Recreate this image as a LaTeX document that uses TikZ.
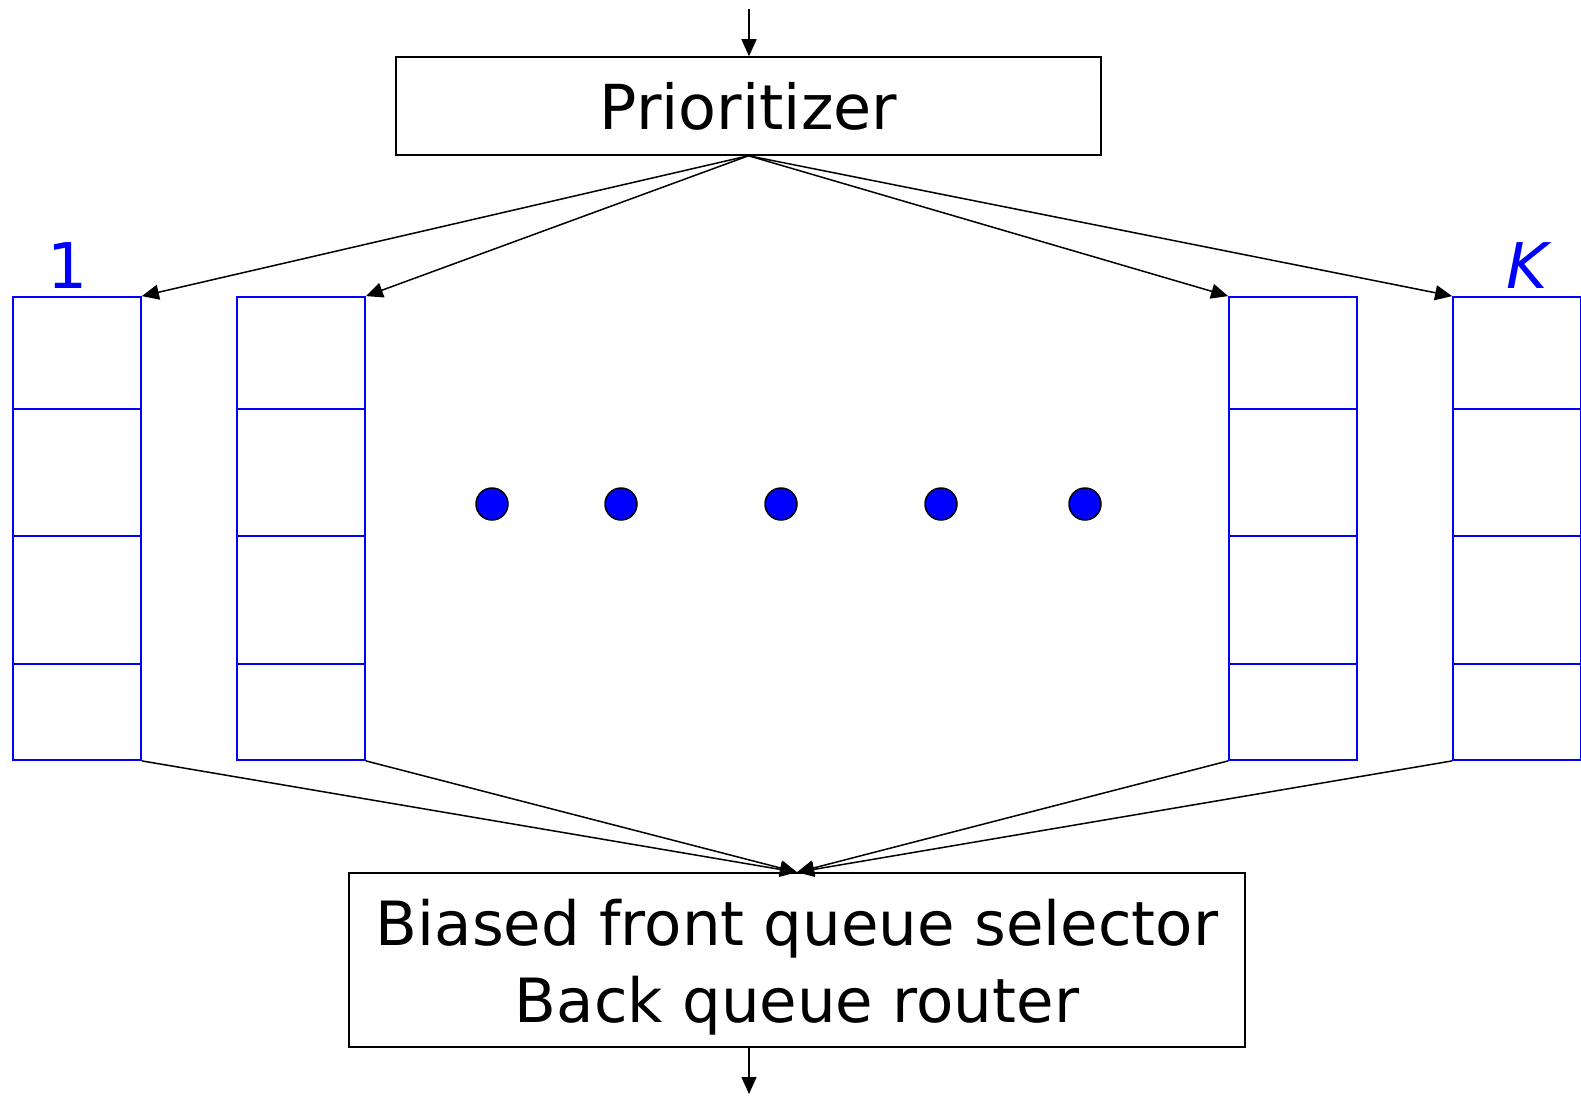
\documentclass[tikz,border=0pt]{standalone}
\usepackage{fontspec}
\setmainfont{DejaVu Sans}
\usetikzlibrary{arrows.meta}
\begin{document}
\begin{tikzpicture}[x=1pt,y=-1pt,
  boxnode/.style={draw=black,line width=1.5pt,inner sep=0pt,font=\fontsize{62}{77}\selectfont},
  queuebox/.style={draw=blue,line width=1.8pt,minimum width=128pt,minimum height=463pt,inner sep=0pt},
  divider/.style={draw=blue,line width=1.8pt},
  qlabel/.style={text=blue,anchor=base,font=\fontsize{63}{70}\selectfont,inner sep=0pt},
  dotnode/.style={circle,draw=black,line width=1.5pt,fill=blue,minimum size=32pt,inner sep=0pt},
  conn/.style={line width=1.5pt,-{Triangle[length=17pt,width=15pt]}},
  plain/.style={line width=1.5pt}]
\useasboundingbox (0,0) rectangle (1581,1097);
% prioritizer
\node[boxnode,minimum width=705pt,minimum height=98pt] (prio) at (748.5,106) {Prioritizer};
\coordinate (in) at (749,9);
\draw[conn] (in) -- (prio.north -| in);
% queues
\node[queuebox] (q1) at (77,528.5) {};
\node[queuebox] (q2) at (301,528.5) {};
\node[queuebox] (q3) at (1293,528.5) {};
\node[queuebox] (qK) at (1517,528.5) {};
\foreach \q in {q1,q2,q3,qK}{
  \foreach \y in {409,536,664}{
    \draw[divider] (\q.west |- 0,\y) -- (\q.east |- 0,\y);
  }
}
\node[qlabel] (l1) at (68,288) {1};
\node[qlabel] (lK) at (1527,288) {\itshape K};
% dots
\node[dotnode] (d1) at (492,504) {};
\node[dotnode] (d2) at (621,504) {};
\node[dotnode] (d3) at (781,504) {};
\node[dotnode] (d4) at (941,504) {};
\node[dotnode] (d5) at (1085,504) {};
% prioritizer arrows
\draw[conn] (prio.south) -- (q1.north east);
\draw[conn] (prio.south) -- (q2.north east);
\draw[conn] (prio.south) -- (q3.north west);
\draw[conn] (prio.south) -- (qK.north west);
% bottom box
\node[boxnode,minimum width=896pt,minimum height=174pt,
  label={[font=\fontsize{61}{77}\selectfont,align=center,yshift=-7pt,inner sep=0pt]center:Biased front queue selector\\Back queue router}] (sel) at (797,960) {};
\draw[conn] (q1.south east) -- (sel.north);
\draw[conn] (q2.south east) -- (sel.north);
\draw[conn] (q3.south west) -- (sel.north);
\draw[conn] (qK.south west) -- (sel.north);
\coordinate (out) at (749,1094);
\draw[conn] (sel.south -| out) -- (out);
\end{tikzpicture}
\end{document}
